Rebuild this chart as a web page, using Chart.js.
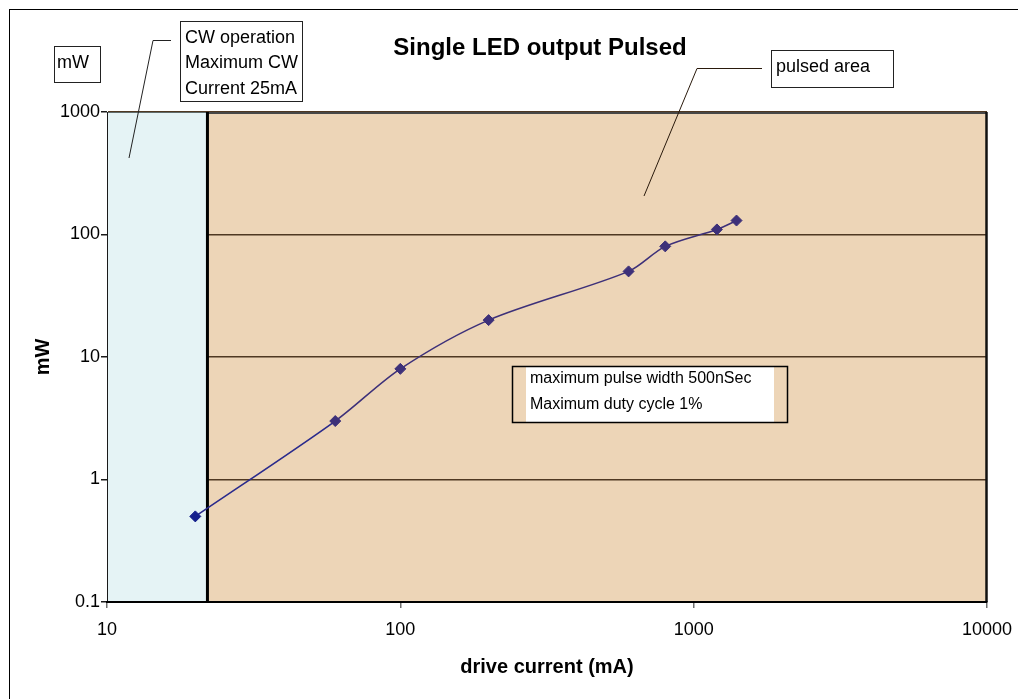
<!DOCTYPE html>
<html>
<head>
<meta charset="utf-8">
<title>Single LED output Pulsed</title>
<script src="https://cdn.jsdelivr.net/npm/chart.js@4/dist/chart.umd.min.js"></script>
<style>
  html, body { margin: 0; padding: 0; background: #ffffff; }
  #wrap { width: 1018px; height: 699px; }
</style>
</head>
<body>
<div id="wrap"><canvas id="chart" width="1018" height="699"></canvas></div>
<script>
// Measured LED output versus drive current
const currentMA = [20, 60, 100, 200, 600, 800, 1200, 1400];
const outputMW = [0.5, 3, 8, 20, 50, 80, 110, 130];

// Axis ticks (log decades)
const xTickValues = [10, 100, 1000, 10000];
const yTickValues = [0.1, 1, 10, 100, 1000];

// Upper edge of the continuous-wave operating region (mA)
const cwLimitMA = 22;

const FONT = "'Liberation Sans', Arial, Helvetica, sans-serif";
const LINE_COLOR = '#3d3079';
const CW_COLOR = '#15208c';

const points = currentMA.map((x, i) => ({ x: x, y: outputMW[i] }));

function fitLogTicks(values) {
  return function (scale) {
    scale.ticks = values.map(v => ({ value: v }));
  };
}

const regionsPlugin = {
  id: 'regions',
  beforeDraw(chart) {
    const { ctx, chartArea: a } = chart;
    ctx.save();
    ctx.fillStyle = '#ffffff';
    ctx.fillRect(0, 0, chart.width, chart.height);
    // outer frame
    ctx.strokeStyle = '#000';
    ctx.lineWidth = 1;
    ctx.strokeRect(9.5, 9.5, chart.width + 20, chart.height + 20);
    // pulsed area background
    ctx.fillStyle = '#edd5b7';
    ctx.fillRect(a.left, a.top, a.right - a.left, a.bottom - a.top);
    ctx.restore();
  },
  beforeDatasetsDraw(chart) {
    const { ctx, chartArea: a, scales } = chart;
    const xCw = scales.x.getPixelForValue(cwLimitMA);
    ctx.save();
    // CW operation region
    ctx.fillStyle = '#e5f3f5';
    ctx.fillRect(a.left, a.top, xCw - a.left, a.bottom - a.top);
    ctx.strokeStyle = '#5f6a6a';
    ctx.lineWidth = 1;
    ctx.beginPath();
    ctx.moveTo(a.left, a.top + 0.5);
    ctx.lineTo(xCw, a.top + 0.5);
    ctx.stroke();
    ctx.strokeStyle = '#1a1a1a';
    ctx.beginPath();
    ctx.moveTo(a.left + 0.5, a.top);
    ctx.lineTo(a.left + 0.5, a.bottom);
    ctx.stroke();
    // pulsed area outline
    ctx.strokeStyle = '#474747';
    ctx.lineWidth = 2;
    ctx.beginPath();
    ctx.moveTo(xCw, a.top + 1);
    ctx.lineTo(a.right, a.top + 1);
    ctx.stroke();
    ctx.strokeStyle = '#111';
    ctx.lineWidth = 2.5;
    ctx.beginPath();
    ctx.moveTo(a.right - 0.5, a.top);
    ctx.lineTo(a.right - 0.5, a.bottom);
    ctx.stroke();
    // boundary line between the two regions
    ctx.strokeStyle = '#000';
    ctx.lineWidth = 3;
    ctx.beginPath();
    ctx.moveTo(xCw, a.top);
    ctx.lineTo(xCw, a.bottom);
    ctx.stroke();
    // bottom edge
    ctx.lineWidth = 2;
    ctx.beginPath();
    ctx.moveTo(a.left, a.bottom);
    ctx.lineTo(a.right, a.bottom);
    ctx.stroke();
    ctx.restore();
  },
  afterDraw(chart) {
    const { ctx, chartArea: a } = chart;
    ctx.save();
    ctx.fillStyle = '#000';
    ctx.textBaseline = 'alphabetic';

    // chart title
    ctx.font = 'bold 24px ' + FONT;
    ctx.textAlign = 'center';
    ctx.fillText('Single LED output Pulsed', 540, 55);

    // axis titles
    ctx.font = 'bold 20px ' + FONT;
    ctx.fillText('drive current (mA)', (a.left + a.right) / 2, 673);
    ctx.save();
    ctx.translate(49, (a.top + a.bottom) / 2);
    ctx.rotate(-Math.PI / 2);
    ctx.fillText('mW', 0, 0);
    ctx.restore();

    // callout boxes
    ctx.textAlign = 'left';
    ctx.font = '18px ' + FONT;
    ctx.strokeStyle = '#222';
    ctx.lineWidth = 1;

    ctx.strokeRect(54.5, 46.5, 46, 36);
    ctx.fillText('mW', 57, 68);

    ctx.strokeRect(180.5, 21.5, 122, 80);
    ctx.fillText('CW operation', 185, 43);
    ctx.fillText('Maximum CW', 185, 68);
    ctx.fillText('Current 25mA', 185, 94);

    ctx.strokeRect(771.5, 50.5, 122, 37);
    ctx.fillText('pulsed area', 776, 72);

    // leader lines
    ctx.beginPath();
    ctx.moveTo(171, 40.5);
    ctx.lineTo(153, 40.5);
    ctx.lineTo(129, 158);
    ctx.stroke();
    ctx.strokeStyle = '#2a1a0c';
    ctx.beginPath();
    ctx.moveTo(762, 68.5);
    ctx.lineTo(697, 68.5);
    ctx.lineTo(644, 196);
    ctx.stroke();

    // pulse conditions note
    ctx.fillStyle = '#ffffff';
    ctx.fillRect(526, 366, 248, 57);
    ctx.strokeStyle = '#000';
    ctx.lineWidth = 1.5;
    ctx.strokeRect(512.5, 366.5, 275, 56);
    ctx.fillStyle = '#000';
    ctx.font = '16px ' + FONT;
    ctx.fillText('maximum pulse width 500nSec', 530, 383);
    ctx.fillText('Maximum duty cycle 1%', 530, 409);
    ctx.restore();
  }
};

new Chart(document.getElementById('chart'), {
  type: 'scatter',
  data: {
    datasets: [{
      label: 'Output',
      data: points,
      showLine: true,
      tension: 0.3,
      borderColor: LINE_COLOR,
      borderWidth: 1.6,
      pointStyle: 'rectRot',
      pointRadius: 5.5,
      pointBorderWidth: 1,
      pointBackgroundColor: ctx => (ctx.raw && ctx.raw.x < cwLimitMA ? CW_COLOR : LINE_COLOR),
      pointBorderColor: ctx => (ctx.raw && ctx.raw.x < cwLimitMA ? CW_COLOR : LINE_COLOR),
      segment: {
        borderColor: ctx => (ctx.p0.parsed.x < cwLimitMA ? '#2a2a8c' : LINE_COLOR)
      }
    }]
  },
  options: {
    responsive: false,
    animation: false,
    devicePixelRatio: 1,
    layout: { padding: { left: 0, top: 112, right: 31, bottom: 0 } },
    plugins: {
      legend: { display: false },
      title: { display: false },
      tooltip: { enabled: false }
    },
    scales: {
      x: {
        type: 'logarithmic',
        min: 10,
        max: 10000,
        afterBuildTicks: fitLogTicks(xTickValues),
        afterFit(scale) {
          scale.height = 97;
          scale.paddingLeft = 0;
          scale.paddingRight = 0;
        },
        ticks: {
          autoSkip: false,
          maxRotation: 0,
          padding: 11,
          color: '#000',
          font: { family: FONT, size: 18 },
          callback: v => String(v)
        },
        grid: {
          drawOnChartArea: false,
          drawTicks: true,
          tickLength: 6,
          tickColor: '#6e6e6e',
          lineWidth: 1.5
        },
        border: { display: true, color: '#000', width: 2 }
      },
      y: {
        type: 'logarithmic',
        min: 0.1,
        max: 1000,
        afterBuildTicks: fitLogTicks(yTickValues),
        afterFit(scale) {
          scale.width = 107;
          scale.paddingTop = 0;
          scale.paddingBottom = 0;
        },
        ticks: {
          autoSkip: false,
          padding: 1,
          color: '#000',
          font: { family: FONT, size: 18 },
          callback: v => String(v)
        },
        grid: {
          drawOnChartArea: true,
          drawTicks: true,
          tickLength: 6,
          tickColor: '#1a1a1a',
          color: '#4f3822',
          lineWidth: 1.5
        },
        border: { display: true, color: '#000', width: 1 }
      }
    }
  },
  plugins: [regionsPlugin]
});
</script>
</body>
</html>
